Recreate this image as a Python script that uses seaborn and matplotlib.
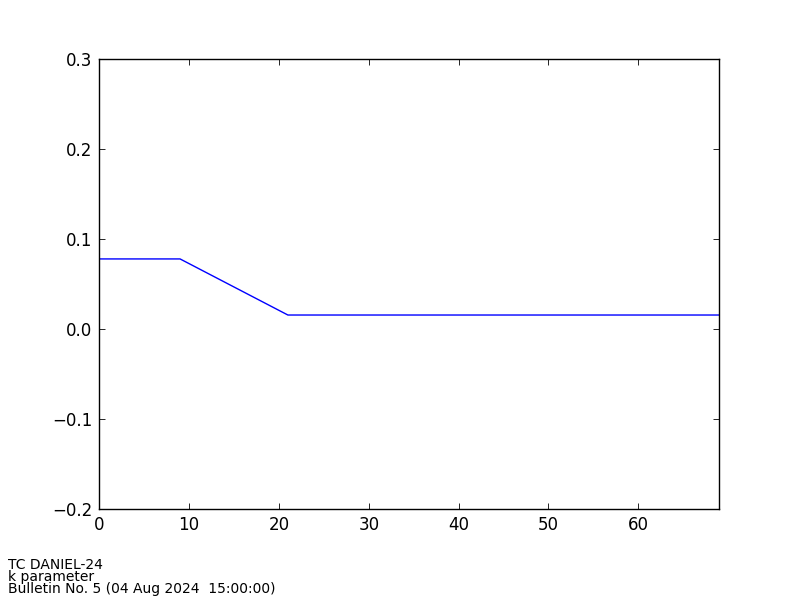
import matplotlib
matplotlib.use("Agg")
import matplotlib.pyplot as plt
import seaborn as sns
import pandas as pd

# Data (forecast hour vs k parameter)
hours = [0, 9, 21, 69]
k_values = [0.078, 0.078, 0.0156, 0.0156]

x_ticks = [0, 10, 20, 30, 40, 50, 60]
y_ticks = [-0.2, -0.1, 0.0, 0.1, 0.2, 0.3]

info_lines = ["TC DANIEL-24", "k parameter", "Bulletin No. 5 (04 Aug 2024  15:00:00)"]

sns.set_style("ticks")
plt.rcParams["font.family"] = ["DejaVu Sans"]
plt.rcParams["text.color"] = "black"
plt.rcParams["xtick.color"] = "black"
plt.rcParams["ytick.color"] = "black"

df = pd.DataFrame({"hour": hours, "k": k_values})

fig, ax = plt.subplots(figsize=(8, 6), dpi=100)
fig.subplots_adjust(left=0.124, right=0.899, top=0.901, bottom=0.152)

sns.lineplot(data=df, x="hour", y="k", color="blue", linewidth=1.0, ax=ax)

ax.set_xlim(0, 69)
ax.set_ylim(-0.2, 0.3)
ax.set_xticks(x_ticks)
ax.set_yticks(y_ticks)
ax.set_yticklabels(["\u22120.2", "\u22120.1", "0.0", "0.1", "0.2", "0.3"])
ax.set_xlabel("")
ax.set_ylabel("")
ax.tick_params(direction="in", length=4, width=0.6, labelsize=12, colors="black",
               top=True, right=True, pad=5)
for sp in ax.spines.values():
    sp.set_visible(True)
    sp.set_color("black")
    sp.set_linewidth(1.0)

# info text at bottom-left
for i, line in enumerate(info_lines):
    fig.text(0.01, 0.0583 - i * 0.02, line, fontsize=10, va="center", ha="left",
             color="black")

fig.savefig("out.png", dpi=100, facecolor="white")
